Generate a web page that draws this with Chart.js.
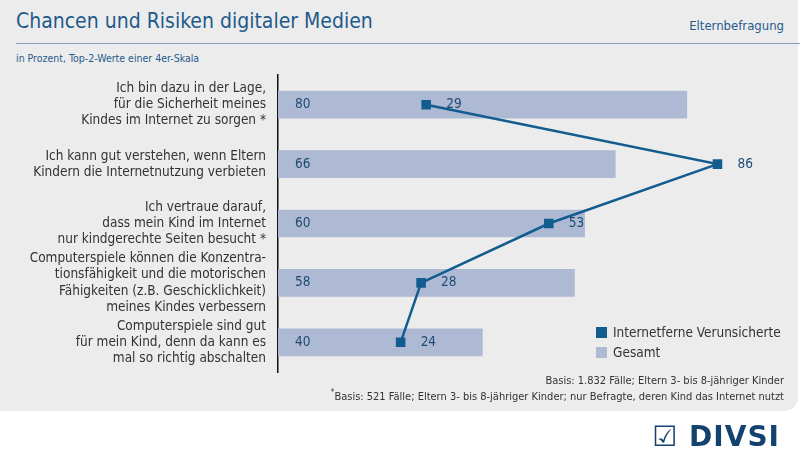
<!DOCTYPE html>
<html>
<head>
<meta charset="utf-8">
<script src="https://cdn.jsdelivr.net/npm/chart.js@4"></script>
<style>
  body { margin: 0; background: #fff; font-family: "DejaVu Sans Condensed", "Liberation Sans Narrow", "Noto Sans", sans-serif; }
  #panel { position: absolute; left: 0; top: 0; width: 798px; height: 411px; background: #ececec; border-radius: 0 0 14px 0; }
  #title { position: absolute; left: 16px; top: 9px; font-size: 21px; color: #1f5a8c; }
  #src { position: absolute; right: 16px; top: 18px; font-size: 13px; color: #1f5a8c; }
  #rule { position: absolute; left: 16px; right: 0; top: 43px; border-top: 1.5px solid #7fa3c4; }
  #sub { position: absolute; left: 16px; top: 52px; font-size: 10.5px; color: #1f5a8c; }
  #legend { position: absolute; left: 596px; top: 322px; font-size: 13.5px; color: #333; line-height: 20px; }
  #legend span.sw { display: inline-block; width: 11px; height: 11px; margin-right: 6px; vertical-align: -1px; }
  #notes { position: absolute; right: 16px; top: 373px; font-size: 11px; color: #333; text-align: right; line-height: 16px; }
  #notes sup { line-height: 0; font-size: 8px; }
  #logo { position: absolute; right: 20px; top: 420px; font-size: 28px; font-weight: bold; color: #14426f; font-family: "DejaVu Sans", sans-serif; letter-spacing: 1px; }
  canvas { position: absolute; left: 0; top: 0; }
</style>
</head>
<body>
<div id="panel"></div>
<div id="title">Chancen und Risiken digitaler Medien</div>
<div id="src">Elternbefragung</div>
<div id="rule"></div>
<div id="sub">in Prozent, Top-2-Werte einer 4er-Skala</div>
<div id="chartbox" style="position:absolute;left:0;top:0;width:800px;height:463px;"><canvas id="myChart"></canvas></div>
<div id="legend">
  <div><span class="sw" style="background:#125c8f"></span>Internetferne Verunsicherte</div>
  <div><span class="sw" style="background:#aebad3"></span>Gesamt</div>
</div>
<div id="notes">Basis: 1.832 Fälle; Eltern 3- bis 8-jähriger Kinder<br><sup>*</sup>Basis: 521 Fälle; Eltern 3- bis 8-jähriger Kinder; nur Befragte, deren Kind das Internet nutzt</div>
<div id="logo">☑ DIVSI</div>
<script>
// Categories (multi-line labels)
const categories = [
    ['Ich bin dazu in der Lage,', 'für die Sicherheit meines', 'Kindes im Internet zu sorgen *'],
    ['Ich kann gut verstehen, wenn Eltern', 'Kindern die Internetnutzung verbieten'],
    ['Ich vertraue darauf,', 'dass mein Kind im Internet', 'nur kindgerechte Seiten besucht *'],
    ['Computerspiele können die Konzentra-', 'tionsfähigkeit und die motorischen', 'Fähigkeiten (z.B. Geschicklichkeit)', 'meines Kindes verbessern'],
    ['Computerspiele sind gut', 'für mein Kind, denn da kann es', 'mal so richtig abschalten']
];
const gesamt = [80, 66, 60, 58, 40];
const verunsicherte = [29, 86, 53, 28, 24];

const valueLabels = {
    id: 'valueLabels',
    afterDatasetsDraw(chart) {
        const ctx = chart.ctx;
        const x = chart.scales.x;
        ctx.save();
        ctx.font = '13.5px "DejaVu Sans Condensed", sans-serif';
        ctx.textBaseline = 'middle';
        ctx.fillStyle = '#1f4a75';
        ctx.textAlign = 'left';
        chart.getDatasetMeta(1).data.forEach((bar, i) => {
            ctx.fillText(gesamt[i], x.left + 17, bar.y);
        });
        chart.getDatasetMeta(0).data.forEach((pt, i) => {
            ctx.fillText(verunsicherte[i], pt.x + 20, pt.y);
        });
        ctx.restore();
    }
};

const ctx = document.getElementById('myChart').getContext('2d');
new Chart(ctx, {
    data: {
        labels: categories,
        datasets: [{
            type: 'line',
            label: 'Internetferne Verunsicherte',
            data: verunsicherte,
            borderColor: '#125c8f',
            backgroundColor: '#125c8f',
            borderWidth: 2.5,
            pointStyle: 'rect',
            pointRadius: 5,
            pointHoverRadius: 5,
            order: 0
        }, {
            type: 'bar',
            label: 'Gesamt',
            data: gesamt,
            backgroundColor: '#aebad3',
            barThickness: 27,
            order: 1
        }]
    },
    options: {
        indexAxis: 'y',
        responsive: true,
        maintainAspectRatio: false,
        animation: false,
        layout: { padding: { top: 75, bottom: 91, left: 0, right: 11 } },
        plugins: { legend: { display: false }, tooltip: { enabled: false } },
        scales: {
            x: { min: 0, max: 100, display: false },
            y: {
                grid: { display: false, drawTicks: false },
                border: { display: true, color: '#111', width: 1.5 },
                afterFit(scale) { scale.width = 278; },
                ticks: {
                    autoSkip: false,
                    color: '#333',
                    padding: 12,
                    font: { size: 13.5, family: '"DejaVu Sans Condensed", sans-serif', lineHeight: 1.2 }
                }
            }
        }
    },
    plugins: [valueLabels]
});
</script>
</body>
</html>
